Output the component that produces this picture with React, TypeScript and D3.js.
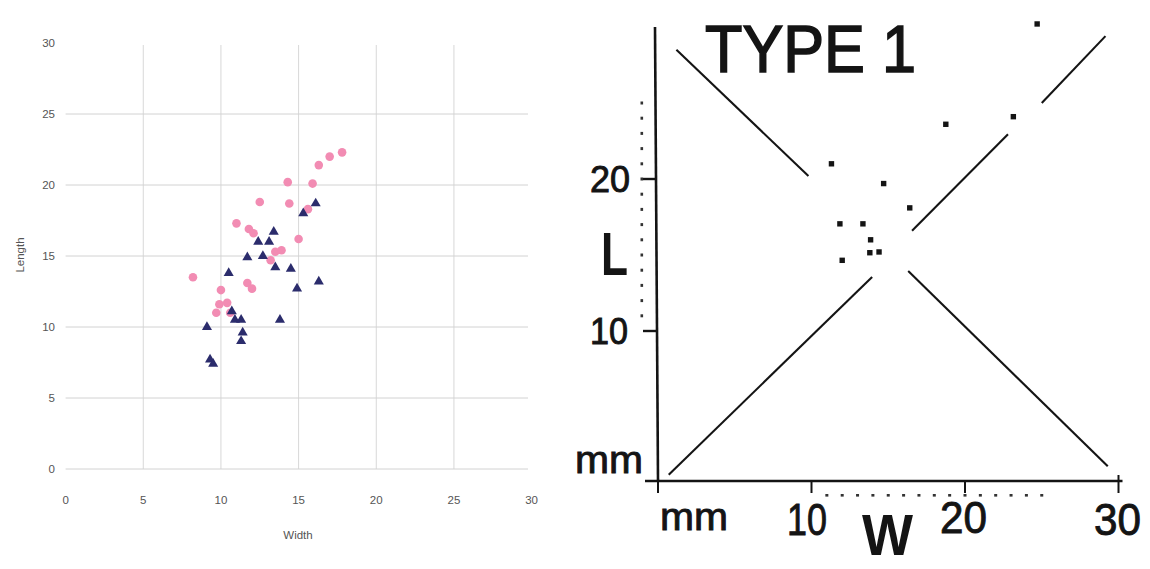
import React from 'react';
import * as d3 from 'd3';

// left panel: spreadsheet scatter (width vs length)
const pinkWidth = [8.2, 10.0, 9.7, 9.9, 10.4, 10.6, 11.7, 12.0, 11.0, 11.8, 12.1, 12.5, 13.2, 13.5, 13.9, 15.0, 14.3, 14.4, 15.9, 15.6, 16.3, 17.0, 17.8];
const pinkLength = [13.5, 12.6, 11.0, 11.6, 11.7, 11.0, 13.1, 12.7, 17.3, 16.9, 16.6, 18.8, 14.7, 15.3, 15.4, 16.2, 20.2, 18.7, 20.1, 18.3, 21.4, 22.0, 22.3];
const navyWidth = [9.3, 9.5, 9.1, 10.5, 10.7, 10.9, 11.3, 11.4, 11.3, 11.7, 12.4, 12.7, 13.1, 13.4, 13.5, 14.5, 14.9, 16.3, 13.8, 15.3, 16.1];
const navyLength = [7.7, 7.4, 10.0, 13.8, 11.1, 10.5, 10.5, 9.6, 9.0, 14.9, 16.0, 15.0, 16.0, 16.7, 14.2, 14.1, 12.7, 13.2, 10.5, 18.0, 18.7];
const leftTicks = [0, 5, 10, 15, 20, 25, 30];

// right panel: scanned "TYPE 1" figure
const typeDotW = [24.7, 18.75, 23.15, 11.3, 14.7, 16.4, 11.85, 13.35, 13.85, 13.8, 14.4, 12.0];
const typeDotL = [30.2, 23.6, 24.1, 21.0, 19.7, 18.1, 17.05, 17.05, 16.0, 15.15, 15.2, 14.65];
const descLine = [
  [[1.2, 28.5], [9.8, 20.2]],
  [[16.3, 13.95], [29.3, 1.1]],
];
const ascLine = [
  [[0.7, 0.55], [13.95, 13.55]],
  [[16.55, 16.6], [22.8, 22.95]],
  [[25.0, 25.0], [29.15, 29.4]],
];
const rangeMarks = [11, 12, 13, 14, 15, 16, 17, 18, 19, 20, 21, 22, 23, 24, 25];
const yTicksRight = [10, 20];
const xTicksRight = [0, 10, 20, 30];

const ink = '#141414';

export default function App() {
  // left scales
  const xL = d3.scaleLinear().domain([0, 30]).range([65.6, 531.6]);
  const yL = d3.scaleLinear().domain([0, 30]).range([469, 43]);
  const tri = d3.symbol().type(d3.symbolTriangle).size(44)();

  // right scales
  const xR = d3.scaleLinear().domain([0, 30]).range([658, 1118.5]);
  const yR = d3.scaleLinear().domain([0, 30]).range([483, 27]);
  const seg = d3.line();
  const axisY = yR(0) - 2;
  const axisX = xR(0) - 3;

  return (
    <svg width={1150} height={569} style={{ position: 'absolute', left: 0, top: 0, background: '#fff' }}>
      {/* ---- left chart ---- */}
      <g fontFamily="Liberation Sans, Arial, sans-serif" fontSize={11.5} fill="#555">
        {leftTicks.filter(t => t > 0 && t < 30).map(t => (
          <line key={'v' + t} x1={xL(t)} x2={xL(t)} y1={45} y2={yL(0)} stroke="#d8d8d8" strokeWidth={1} />
        ))}
        {leftTicks.filter(t => t < 30).map(t => (
          <line key={'h' + t} x1={xL(0)} x2={528} y1={yL(t)} y2={yL(t)} stroke="#d2d2d2" strokeWidth={1} />
        ))}
        {leftTicks.map(t => (
          <text key={'yl' + t} x={55} y={yL(t)} textAnchor="end" dominantBaseline="central">{t}</text>
        ))}
        {leftTicks.map(t => (
          <text key={'xl' + t} x={xL(t)} y={500} textAnchor="middle" dominantBaseline="central">{t}</text>
        ))}
        <text x={298} y={535} textAnchor="middle" dominantBaseline="central">Width</text>
        <text transform="translate(20,255) rotate(-90)" textAnchor="middle" dominantBaseline="central">Length</text>

        {pinkWidth.map((w, i) => (
          <circle key={'p' + i} cx={xL(w)} cy={yL(pinkLength[i])} r={4.3} fill="#f28cb3" />
        ))}
        {navyWidth.map((w, i) => (
          <path key={'n' + i} d={tri as string} transform={`translate(${xL(w)},${yL(navyLength[i])})`} fill="#2b2c6c" />
        ))}
      </g>

      {/* ---- right chart ---- */}
      <g fontFamily="Liberation Sans, Arial, sans-serif" fill={ink} stroke={ink} strokeWidth={0.9}>
        {/* axes */}
        <line x1={axisX} x2={axisX + 3} y1={yR(30)} y2={axisY} stroke={ink} strokeWidth={2.6} />
        <line x1={645} x2={xR(30) + 4} y1={axisY} y2={axisY} stroke={ink} strokeWidth={2.4} />
        {yTicksRight.map(t => (
          <line key={'yt' + t} x1={643} x2={axisX + 1} y1={yR(t)} y2={yR(t)} stroke={ink} strokeWidth={2.4} />
        ))}
        {xTicksRight.map(t => (
          <line key={'xt' + t} x1={xR(t)} x2={xR(t)} y1={t === 30 ? axisY - 6 : axisY} y2={axisY + 12} stroke={ink} strokeWidth={2} />
        ))}

        {/* range marks */}
        {rangeMarks.map(m => (
          <rect key={'rl' + m} x={640.5} y={yR(m) - 1.5} width={2.6} height={3} fill="#333" stroke="none" />
        ))}
        {rangeMarks.map(m => (
          <rect key={'rw' + m} x={xR(m) - 1.5} y={494} width={3} height={2.6} fill="#333" stroke="none" />
        ))}

        {/* X lines */}
        {descLine.concat(ascLine).map((s, i) => (
          <path key={'s' + i} d={seg(s.map(p => [xR(p[0]), yR(p[1])]) as [number, number][]) as string}
            stroke={ink} strokeWidth={2.1} fill="none" />
        ))}

        {/* points */}
        {typeDotW.map((w, i) => (
          <rect key={'d' + i} x={xR(w) - 2.7} y={yR(typeDotL[i]) - 2.7} width={5.4} height={5.4} fill={ink} stroke="none" />
        ))}

        {/* labels */}
        <text x={705} y={72} fontSize={67} strokeWidth={1.6} textLength={211} lengthAdjust="spacingAndGlyphs">TYPE 1</text>
        <text x={630} y={yR(20)} fontSize={36} textAnchor="end" dominantBaseline="central" textLength={40} lengthAdjust="spacingAndGlyphs">20</text>
        <text x={628} y={yR(10)} fontSize={36} textAnchor="end" dominantBaseline="central" textLength={38} lengthAdjust="spacingAndGlyphs">10</text>
        <text x={601} y={275} fontSize={62} fontWeight="bold" stroke="none" textLength={27} lengthAdjust="spacingAndGlyphs">L</text>
        <text x={575} y={473} fontSize={38} textLength={68} lengthAdjust="spacingAndGlyphs">mm</text>
        <text x={660} y={530} fontSize={38} textLength={68} lengthAdjust="spacingAndGlyphs">mm</text>
        <text x={787} y={535} fontSize={45} textLength={40} lengthAdjust="spacingAndGlyphs">10</text>
        <text x={940} y={533} fontSize={45} textLength={47} lengthAdjust="spacingAndGlyphs">20</text>
        <text x={1094} y={535} fontSize={45} textLength={47} lengthAdjust="spacingAndGlyphs">30</text>
        <text x={862} y={555} fontSize={58} fontWeight="bold" stroke="none" textLength={51} lengthAdjust="spacingAndGlyphs">W</text>
      </g>
    </svg>
  );
}
